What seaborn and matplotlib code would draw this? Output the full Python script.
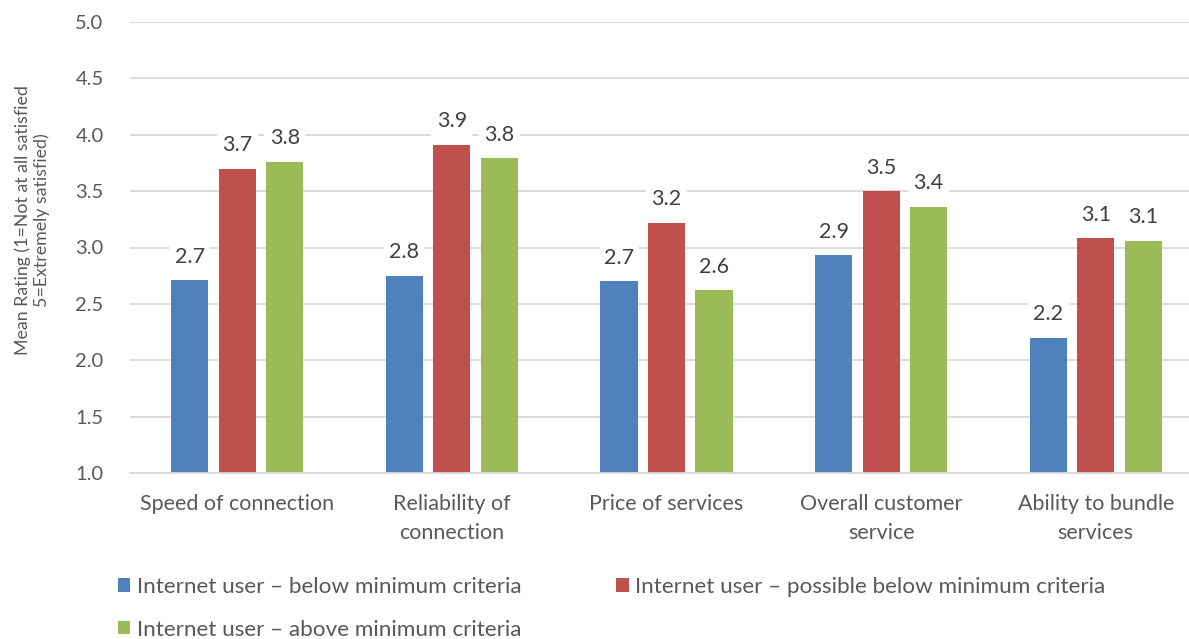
import matplotlib
matplotlib.use("Agg")
import matplotlib.pyplot as plt
import seaborn as sns
import pandas as pd
from matplotlib.patches import Patch

categories = [
    "Speed of connection",
    "Reliability of\nconnection",
    "Price of services",
    "Overall customer\nservice",
    "Ability to bundle\nservices",
]
series_names = [
    "Internet user \u2013 below minimum criteria",
    "Internet user \u2013 possible below minimum criteria",
    "Internet user \u2013 above minimum criteria",
]
below_min = [2.71, 2.75, 2.70, 2.93, 2.20]
possible_below = [3.70, 3.91, 3.22, 3.50, 3.08]
above_min = [3.76, 3.79, 2.62, 3.36, 3.06]
colors = ["#4F81BD", "#C0504D", "#9BBB59"]
y_ticks = [1.0, 1.5, 2.0, 2.5, 3.0, 3.5, 4.0, 4.5, 5.0]

rows = []
for name, vals in zip(series_names, [below_min, possible_below, above_min]):
    for cat, v in zip(categories, vals):
        rows.append({"Category": cat, "Group": name, "Rating": v})
df = pd.DataFrame(rows)

sns.set_theme(style="white")
plt.rcParams["font.family"] = ["Lato", "DejaVu Sans"]

W, H = 1189, 639
fig = plt.figure(figsize=(W / 100, H / 100), dpi=100)
ax = fig.add_axes([130 / W, (H - 473) / H, 1 - 130 / W, (473 - 22) / H])

sns.barplot(
    data=df, x="Category", y="Rating", hue="Group",
    order=categories, hue_order=series_names, palette=colors,
    width=0.664, gap=0.22, saturation=1, ax=ax, legend=False,
    edgecolor="none",
)

ax.set_ylim(1.0, 5.0)
ax.set_xlim(-0.5, -0.5 + (W - 130) / 214.6)
ax.set_yticks(y_ticks)
ax.set_yticklabels([f"{t:.1f}" for t in y_ticks])
ax.yaxis.grid(True, color="#d9d9d9", linewidth=1.3)
ax.set_axisbelow(True)
for side in ["top", "right", "left"]:
    ax.spines[side].set_visible(False)
ax.spines["bottom"].set_color("#d9d9d9")
ax.spines["bottom"].set_linewidth(1.3)

ax.tick_params(axis="y", length=0, pad=19, labelsize=14.5, labelcolor="#595959")
ax.tick_params(axis="x", length=0, pad=15, labelsize=15.5, labelcolor="#595959")
for lbl in ax.get_xticklabels():
    lbl.set_linespacing(1.55)
ax.set_xlabel("")
ax.set_ylabel("Mean Rating (1=Not at all satisfied\n5=Extremely satisfied)",
              fontsize=12.8, color="#595959", linespacing=1.15)
ax.yaxis.set_label_coords(-0.076, 0.56)

for cont in ax.containers:
    for bar in cont:
        h = bar.get_height()
        ax.annotate(
            f"{h:.1f}",
            (bar.get_x() + bar.get_width() / 2, h),
            xytext=(0, 17), textcoords="offset points",
            ha="center", va="center", fontsize=15.5, color="#404040",
            bbox=dict(boxstyle="square,pad=0.25", fc="white", ec="none"),
        )

# legend fills column by column, so order entries to read row by row
order = [0, 2, 1]
handles = [Patch(facecolor=colors[i], edgecolor="none") for i in order]
labels = [series_names[i] for i in order]
fig.legend(
    handles, labels, ncol=2, loc="upper left",
    bbox_to_anchor=(118 / W, (H - 577) / H), frameon=False,
    fontsize=16.2, labelcolor="#595959",
    handlelength=0.55, handleheight=0.55, handletextpad=0.3,
    columnspacing=4.2, labelspacing=1.0, borderpad=0, borderaxespad=0,
)

fig.savefig("out.png", dpi=100, facecolor="white")
